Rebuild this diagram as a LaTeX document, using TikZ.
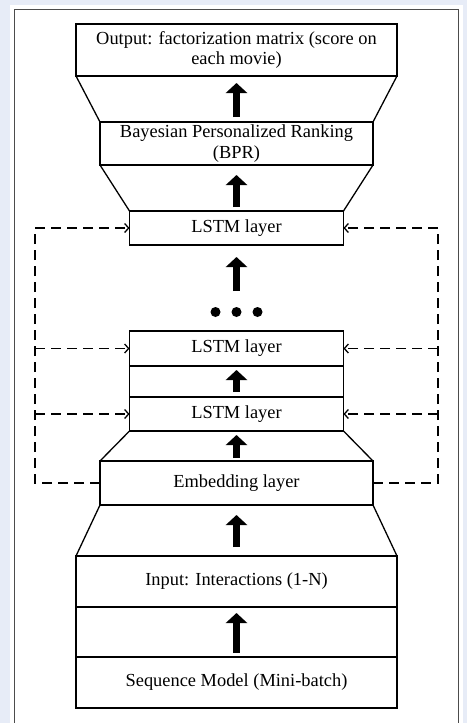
\documentclass[tikz,border=0pt]{standalone}
\usepackage{fontspec}
\setmainfont{Liberation Serif}
\usepackage{xcolor}
\usetikzlibrary{positioning}
\usetikzlibrary{arrows.meta}

\definecolor{bgblue}{HTML}{E7ECF7}

\begin{document}
\begin{tikzpicture}[x=1pt,y=-1pt,
  layer/.style={draw, line width=1.3pt, inner sep=0pt, outer sep=0pt, align=center,
    font=\fontsize{18.4}{20.5}\selectfont},
  wide/.style={layer, minimum width=321pt},
  mid/.style={layer, minimum width=273pt},
  narrow/.style={layer, minimum width=214pt},
  side/.style={line width=1.3pt},
  bigarrow/.style={line width=7.5pt, -{Triangle[length=10pt,width=21pt]}},
  feedback/.style={line width=1.3pt, dash pattern=on 10pt off 6pt,
    -{Straight Barb[length=4pt,width=9pt]}},
  ]

\useasboundingbox (0,0) rectangle (467,723);

% background and frame
\fill[bgblue] (0,0) rectangle (467,723);
\fill[white] (10,5) rectangle (463,723);
\draw[line width=1.6pt, black!70] (14.5,723) |- (458.5,9.5) -- (458.5,723);

% layers
\node[wide, minimum height=52pt] (out) at (236.5,50) {Output: factorization matrix (score on\\each movie)};
\node[mid, minimum height=43pt] (bpr) at (236.5,143.5) {Bayesian Personalized Ranking\\(BPR)};
\node[narrow, minimum height=34pt] (lstma) at (236.5,228) {LSTM layer};
\node[narrow, minimum height=35pt] (lstmb) at (236.5,348.5) {LSTM layer};
\node[narrow, minimum height=31pt] (gap) at (236.5,381.5) {};
\node[narrow, minimum height=34pt] (lstmc) at (236.5,414) {LSTM layer};
\node[mid, minimum height=44pt] (emb) at (236.5,483) {Embedding layer};
\node[wide, minimum height=51pt] (inp) at (236.5,581.5) {Input: Interactions (1-N)};
\node[wide, minimum height=50pt] (gapb) at (236.5,632) {};
\node[wide, minimum height=51pt] (seq) at (236.5,682.5) {Sequence Model (Mini-batch)};

% funnel sides
\draw[side] (out.south west) -- (bpr.north west);
\draw[side] (out.south east) -- (bpr.north east);
\draw[side] (bpr.south west) -- (lstma.north west);
\draw[side] (bpr.south east) -- (lstma.north east);
\draw[side] (lstmc.south west) -- (emb.north west);
\draw[side] (lstmc.south east) -- (emb.north east);
\draw[side] (emb.south west) -- (inp.north west);
\draw[side] (emb.south east) -- (inp.north east);

% dots
\coordinate (dots) at (236.5,312);
\foreach \dx in {-21,0,21}
  \fill ([xshift=\dx pt]dots) circle [radius=5pt];

% flow arrows
\draw[bigarrow, shorten <=5pt, shorten >=7pt] (bpr.north) -- (out.south);
\draw[bigarrow, shorten <=4pt, shorten >=10pt] (lstma.north) -- (bpr.south);
\draw[bigarrow, shorten <=21pt, shorten >=12pt] (dots) -- (lstma.south);
\draw[bigarrow, shorten <=5pt, shorten >=4pt] (lstmc.north) -- (lstmb.south);
\draw[bigarrow, shorten <=3pt, shorten >=4pt] (emb.north) -- (lstmc.south);
\draw[bigarrow, shorten <=9pt, shorten >=10pt] (inp.north) -- (emb.south);
\draw[bigarrow, shorten <=4pt, shorten >=6pt] (seq.north) -- (inp.south);

% feedback lines
\coordinate (lcorner) at (35,228);
\coordinate (rcorner) at (438,228);
\draw[feedback] (emb.west) -| (lcorner) -- (lstma.west);
\draw[feedback] (emb.east) -| (rcorner) -- (lstma.east);
\draw[feedback] (lstmb.west -| lcorner) -- (lstmb.west);
\draw[feedback] (lstmb.east -| rcorner) -- (lstmb.east);
\draw[feedback] (lstmc.west -| lcorner) -- (lstmc.west);
\draw[feedback] (lstmc.east -| rcorner) -- (lstmc.east);

\end{tikzpicture}
\end{document}
